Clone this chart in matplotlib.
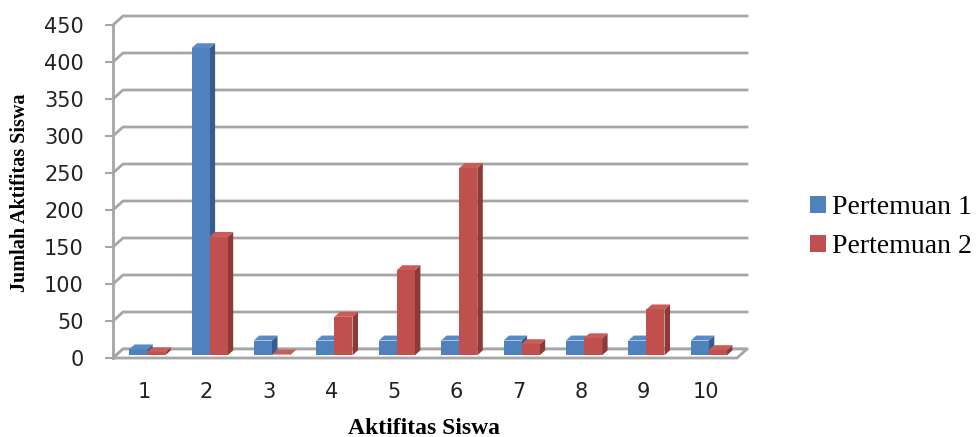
import matplotlib
matplotlib.use("Agg")
import matplotlib.pyplot as plt
from matplotlib.patches import Polygon, Patch
from matplotlib.lines import Line2D
from matplotlib.transforms import IdentityTransform
import numpy as np

# data
categories = [1, 2, 3, 4, 5, 6, 7, 8, 9, 10]
pertemuan_1 = [8, 415, 20, 20, 20, 20, 20, 20, 20, 20]
pertemuan_2 = [4, 160, 1, 52, 115, 253, 15, 23, 62, 7]
series_names = ["Pertemuan 1", "Pertemuan 2"]
yticks = list(range(0, 451, 50))

front_colors = ["#4F81BD", "#C0504D"]
side_colors = ["#385D8A", "#8C3A38"]
top_colors = ["#5A8AC6", "#C95B58"]
grid_color = "#A6A6A6"

W, H = 979, 437
fig = plt.figure(figsize=(W / 100, H / 100), dpi=100)
ax = fig.add_axes([113 / W, (H - 358) / H, 624 / W, 333 / H])
ax.set_xlim(0.5, len(categories) + 0.5)
ax.set_ylim(0, 450)

# depth of the floor / back wall in pixels
wall_dx, wall_dy = 10, 9
# bars sit in the middle of the depth
bar_front, bar_back = 0.3, 0.85


def pt(x, y, d):
    # data point pushed back by fraction d of the depth, in display pixels
    px, py = ax.transData.transform((x, y))
    return (px + d * wall_dx, py + d * wall_dy)


def poly(points, **kw):
    p = Polygon(points, closed=True, transform=IdentityTransform(), **kw)
    fig.add_artist(p)
    return p


x0, x1 = 0.5, len(categories) + 0.5

# back wall grid lines, with the left wall going up to them
for v in yticks:
    xs, ys = zip(pt(x0, v, 0), pt(x0, v, 1), pt(x1, v, 1))
    fig.add_artist(Line2D(xs, ys, transform=IdentityTransform(),
                          color=grid_color, lw=2, zorder=1))

# floor
poly([pt(x0, 0, 0), pt(x1, 0, 0), pt(x1, 0, 1), pt(x0, 0, 1)],
     facecolor="white", edgecolor=grid_color, lw=2, zorder=2)

# 3d bars
bw = 0.29
for i, cat in enumerate(categories):
    for s, vals in enumerate([pertemuan_1, pertemuan_2]):
        v = vals[i]
        left = cat - bw + s * bw
        right = left + bw
        # side
        poly([pt(right, 0, bar_front), pt(right, v, bar_front),
              pt(right, v, bar_back), pt(right, 0, bar_back)],
             facecolor=side_colors[s], edgecolor="none", zorder=3)
        # top
        poly([pt(left, v, bar_front), pt(right, v, bar_front),
              pt(right, v, bar_back), pt(left, v, bar_back)],
             facecolor=top_colors[s], edgecolor="none", zorder=3)
        # front
        poly([pt(left, 0, bar_front), pt(right, 0, bar_front),
              pt(right, v, bar_front), pt(left, v, bar_front)],
             facecolor=front_colors[s], edgecolor="none", zorder=3)

# axes styling
ax.patch.set_visible(False)
for side in ["top", "right", "bottom"]:
    ax.spines[side].set_visible(False)
ax.spines["left"].set_color(grid_color)
ax.spines["left"].set_linewidth(2)
ax.set_yticks(yticks)
ax.set_xticks(categories)
ax.tick_params(axis="y", length=6, width=1.5, color=grid_color, pad=15,
               labelsize=15, labelcolor="#222222")
ax.tick_params(axis="x", length=0, pad=17, labelsize=15, labelcolor="#222222")

fig.text(20 / W, 1 - 193 / H, "Jumlah Aktifitas Siswa", rotation=90,
         ha="center", va="center", family="Liberation Serif",
         fontweight="bold", fontsize=14.5)
fig.text(424 / W, 1 - 428 / H, "Aktifitas Siswa", ha="center", va="center",
         family="Liberation Serif", fontweight="bold", fontsize=17)

handles = [Patch(facecolor=c, edgecolor="none") for c in front_colors]
fig.legend(handles, series_names, loc="center left",
           bbox_to_anchor=(810 / W, 1 - 227 / H), frameon=False,
           prop={"family": "Liberation Serif", "size": 20},
           handlelength=0.58, handleheight=0.58, handletextpad=0.22,
           labelspacing=0.5, borderpad=0, borderaxespad=0)

fig.savefig("out.png", dpi=100)
